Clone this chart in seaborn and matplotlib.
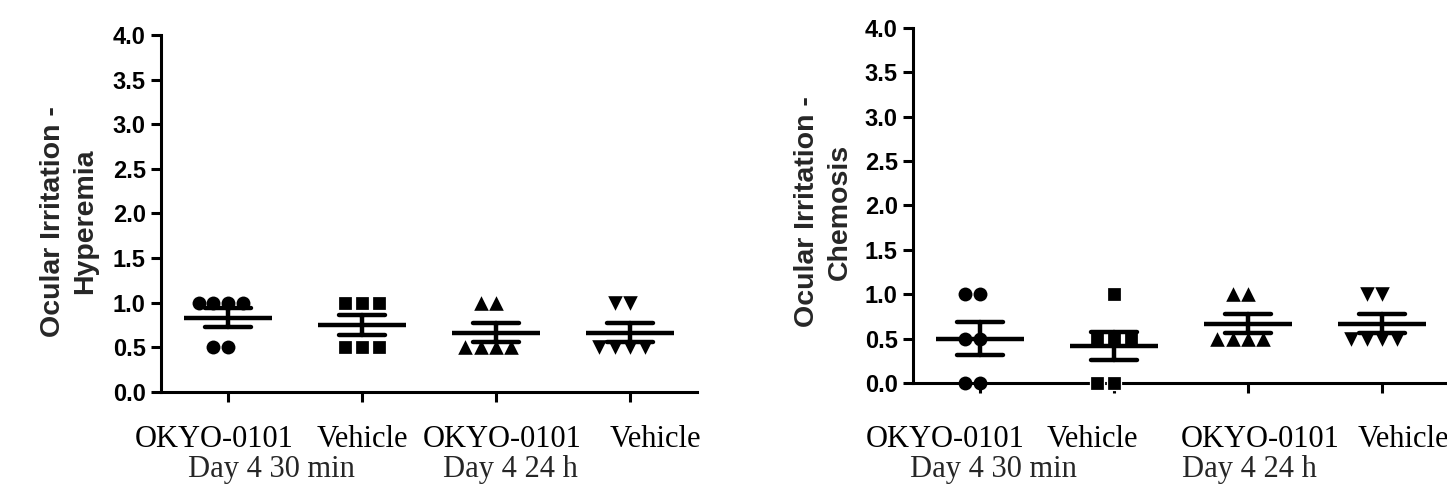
import matplotlib
matplotlib.use("Agg")
import matplotlib.pyplot as plt
import matplotlib.transforms as mtransforms
import numpy as np
import pandas as pd
import seaborn as sns

# Group definitions
treatments = ["OKYO-0101", "Vehicle", "OKYO-0101", "Vehicle"]
timepoints = ["Day 4 30 min", "Day 4 30 min", "Day 4 24 h", "Day 4 24 h"]
markers = ["o", "s", "^", "v"]

# Individual scores (n = 6 per group)
hyperemia = [
    [1.0, 1.0, 1.0, 1.0, 0.5, 0.5],
    [1.0, 1.0, 1.0, 0.5, 0.5, 0.5],
    [1.0, 1.0, 0.5, 0.5, 0.5, 0.5],
    [1.0, 1.0, 0.5, 0.5, 0.5, 0.5],
]
chemosis = [
    [1.0, 1.0, 0.5, 0.5, 0.0, 0.0],
    [1.0, 0.5, 0.5, 0.5, 0.0, 0.0],
    [1.0, 1.0, 0.5, 0.5, 0.5, 0.5],
    [1.0, 1.0, 0.5, 0.5, 0.5, 0.5],
]

y_ticks = [0.0, 0.5, 1.0, 1.5, 2.0, 2.5, 3.0, 3.5, 4.0]

sns.set_theme(style="ticks")
plt.rcParams["font.family"] = ["Liberation Sans", "DejaVu Sans"]

group_keys = [f"{t}|{p}" for t, p in zip(treatments, timepoints)]

# marker size (pt) and white rim width per symbol
marker_style = {"o": (10.0, 0.0), "s": (10.5, 0.9), "^": (10.5, 0.0), "v": (10.5, 0.0)}


def long_table(values):
    rows = []
    for key, vals in zip(group_keys, values):
        for v in vals:
            rows.append({"group": key, "score": v})
    return pd.DataFrame(rows)


def shift_px(fig, dx):
    return mtransforms.ScaledTranslation(dx / fig.dpi, 0, fig.dpi_scale_trans)


def draw_panel(fig, ax, values, ylabel, label_pos, tick_pad, group_offset,
               label_shift, group_shift):
    df = long_table(values)
    for key, mk in zip(group_keys, markers):
        size, rim = marker_style[mk]
        sns.swarmplot(data=df[df["group"] == key], x="group", y="score",
                      order=group_keys, marker=mk, color="black", size=size,
                      linewidth=rim, edgecolor="white", ax=ax, zorder=3)
    for coll in ax.collections:
        coll.set_clip_on(False)

    sns.pointplot(data=df, x="group", y="score", order=group_keys,
                  errorbar="se", capsize=0.35, color="black",
                  linestyle="none", marker="_", markersize=64,
                  markeredgewidth=3.2,
                  err_kws={"linewidth": 3.2, "solid_capstyle": "round"},
                  ax=ax, zorder=4)

    ax.set_xlim(-0.5, len(group_keys) - 0.5)
    ax.set_ylim(0, 4)
    ax.set_yticks(y_ticks)
    ax.set_yticklabels([f"{t:.1f}" for t in y_ticks],
                       fontsize=17, fontweight="bold")
    ax.set_xticks(range(len(group_keys)))
    ax.set_xticklabels(treatments, fontsize=22, family="Liberation Serif")
    ax.set_xlabel("")
    ax.set_ylabel(ylabel, fontsize=20.5, fontweight="bold", linespacing=1.3)
    ax.yaxis.set_label_coords(*label_pos)

    for side in ("top", "right"):
        ax.spines[side].set_visible(False)
    for side in ("left", "bottom"):
        ax.spines[side].set_linewidth(2.2)
        ax.spines[side].set_color("black")
    ax.tick_params(axis="both", direction="out", length=7, width=2.2,
                   color="black", labelcolor="black")
    ax.tick_params(axis="y", pad=4)
    ax.tick_params(axis="x", pad=tick_pad)

    # nudge the treatment names sideways (after tick_params, which resets transforms)
    for lab, dx in zip(ax.get_xticklabels(), label_shift):
        lab.set_transform(lab.get_transform() + shift_px(fig, dx))

    # Time-point captions under each pair of columns
    seen = []
    for tp in timepoints:
        if tp in seen:
            continue
        seen.append(tp)
        idx = [j for j, p in enumerate(timepoints) if p == tp]
        mid = float(np.mean(idx))
        dx = group_shift[len(seen) - 1] * 72 / fig.dpi
        ax.annotate(tp, xy=(mid, 0), xycoords=ax.get_xaxis_transform(),
                    xytext=(dx, -group_offset), textcoords="offset points",
                    ha="center", va="top", fontsize=22,
                    family="Liberation Serif", annotation_clip=False)


fig = plt.figure(figsize=(14.47, 4.84), dpi=100)
ax1 = fig.add_axes([161 / 1447, 1 - 392 / 484, 536 / 1447, 357 / 484])
ax2 = fig.add_axes([913 / 1447, 1 - 383 / 484, 536 / 1447, 355 / 484])

draw_panel(fig, ax1, hyperemia, "Ocular Irritation -\nHyperemia",
           label_pos=(-0.118, 0.478), tick_pad=17, group_offset=45,
           label_shift=[-14, 0, 6, 25], group_shift=[-24, -53])
draw_panel(fig, ax2, chemosis, "Ocular Irritation -\nChemosis",
           label_pos=(-0.113, 0.483), tick_pad=23, group_offset=52,
           label_shift=[-35, -22, 12, 21], group_shift=[-54, -66])

fig.savefig("out.png", dpi=100)
